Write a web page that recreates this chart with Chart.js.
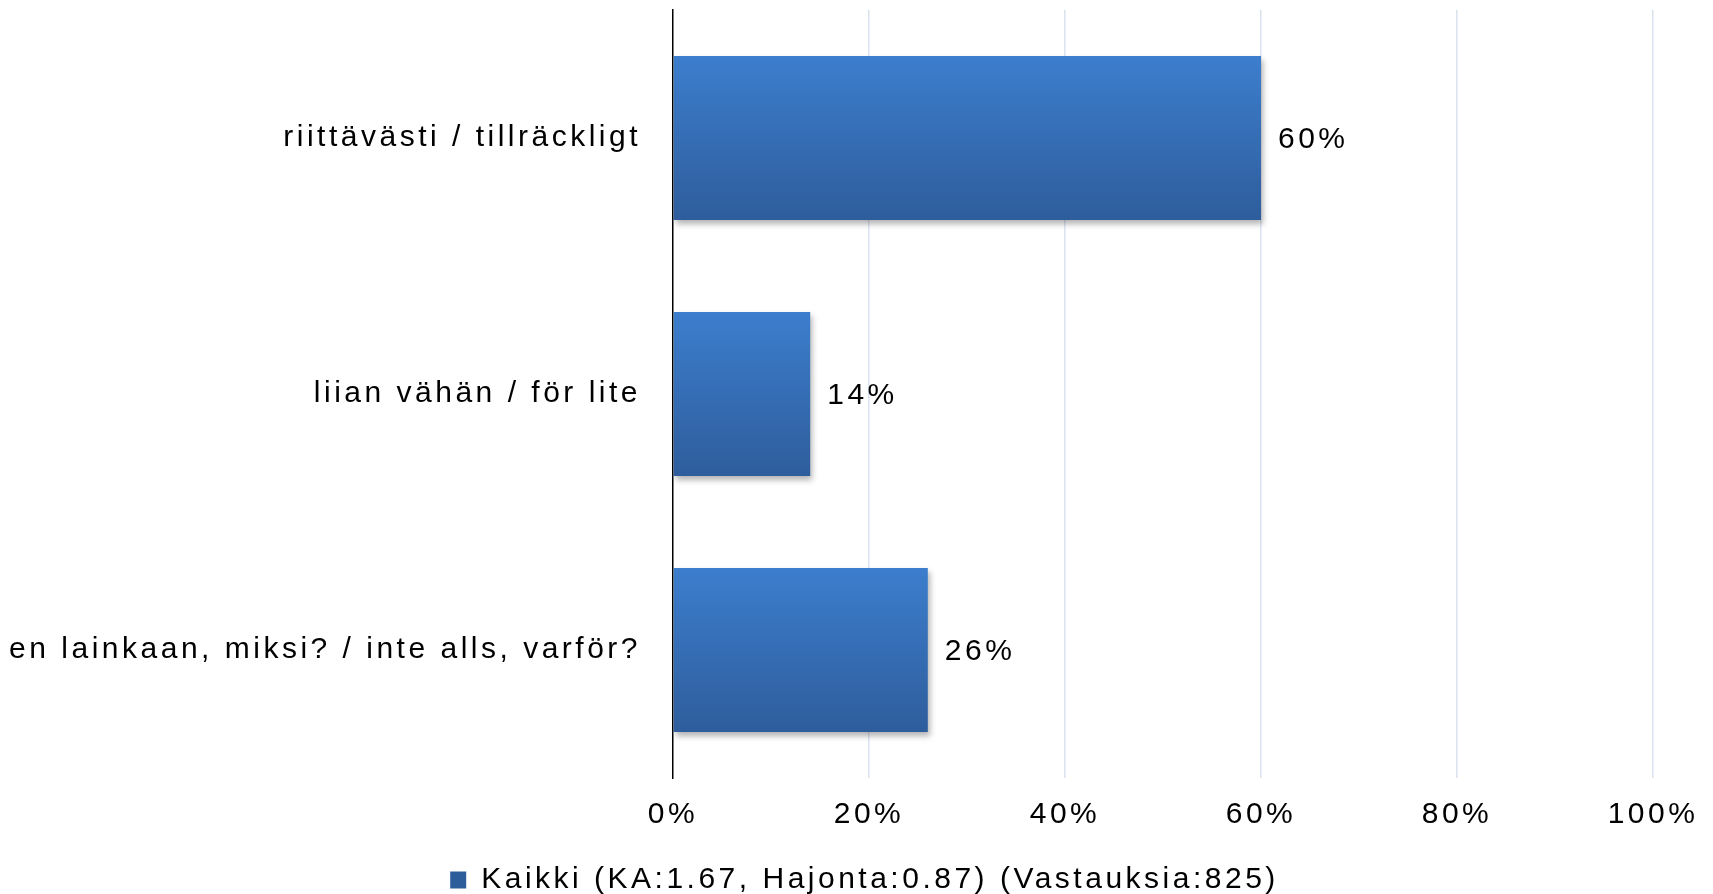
<!DOCTYPE html>
<html>
<head>
<meta charset="utf-8">
<script src="https://cdn.jsdelivr.net/npm/chart.js@4/dist/chart.umd.min.js"></script>
<style>
  html, body { margin: 0; padding: 0; background: #fff; }
  canvas { display: block; }
</style>
</head>
<body>
<canvas id="chart" width="1713" height="894"></canvas>
<script>
const categories = [
    'riittävästi / tillräckligt',
    'liian vähän / för lite',
    'en lainkaan, miksi? / inte alls, varför?'
];
const values = [60, 14, 26];
const seriesName = 'Kaikki (KA:1.67, Hajonta:0.87) (Vastauksia:825)';
const xTicks = [0, 20, 40, 60, 80, 100];

const FONT = '"Liberation Sans", Arial, Helvetica, sans-serif';
const SPACING = '3.5px';

// canvas letter spacing, has to be put back after each resize
const spacingPlugin = {
    id: 'spacing',
    beforeUpdate(chart) { chart.ctx.letterSpacing = SPACING; },
    beforeLayout(chart) { chart.ctx.letterSpacing = SPACING; },
    beforeDraw(chart) { chart.ctx.letterSpacing = SPACING; }
};

// legend sits a bit right of centre and lower in the original
const legendShift = {
    id: 'legendShift',
    afterLayout(chart) {
        const l = chart.legend;
        l.left += 76;
        l.top += 11;
        l.bottom += 11;
    }
};

const shadowPlugin = {
    id: 'barShadow',
    beforeDatasetsDraw(chart) {
        const ctx = chart.ctx;
        ctx.save();
        ctx.shadowColor = 'rgba(0, 0, 0, 0.3)';
        ctx.shadowBlur = 6;
        ctx.shadowOffsetX = 2;
        ctx.shadowOffsetY = 4;
    },
    afterDatasetsDraw(chart) {
        chart.ctx.restore();
    }
};

const valueLabels = {
    id: 'valueLabels',
    afterDatasetsDraw(chart) {
        const ctx = chart.ctx;
        const meta = chart.getDatasetMeta(0);
        ctx.save();
        ctx.font = '30px ' + FONT;
        ctx.fillStyle = '#000';
        ctx.textAlign = 'left';
        ctx.textBaseline = 'middle';
        meta.data.forEach((bar, i) => {
            ctx.fillText(values[i] + '%', bar.x + 17, bar.y + 2);
        });
        ctx.restore();
    }
};

function barColor(c) {
    const chart = c.chart;
    if (c.dataIndex === undefined || !chart.chartArea) return '#3669b1';
    const y = chart.scales.y;
    const band = (y.getPixelForValue(1) - y.getPixelForValue(0)) * 0.64;
    const mid = y.getPixelForValue(c.dataIndex);
    const g = chart.ctx.createLinearGradient(0, mid - band / 2, 0, mid + band / 2);
    g.addColorStop(0, 'rgb(60, 126, 205)');
    g.addColorStop(1, 'rgb(46, 93, 156)');
    return g;
}

const ctx = document.getElementById('chart').getContext('2d');

new Chart(ctx, {
    type: 'bar',
    data: {
        labels: categories,
        datasets: [{
            label: seriesName,
            data: values,
            backgroundColor: barColor,
            borderWidth: 0,
            categoryPercentage: 0.64,
            barPercentage: 1
        }]
    },
    options: {
        indexAxis: 'y',
        responsive: false,
        animation: false,
        layout: {
            padding: { top: 10, right: 60, bottom: 0, left: 0 }
        },
        scales: {
            x: {
                min: 0,
                max: 100,
                afterBuildTicks: (scale) => {
                    scale.ticks = xTicks.map(v => ({ value: v }));
                },
                afterFit: (scale) => {
                    scale.height = 76;
                    scale.paddingLeft = 0;
                    scale.paddingRight = 0;
                },
                grid: {
                    color: (c) => c.tick && c.tick.value === 0 ? 'rgba(0,0,0,0)' : 'rgb(218, 228, 240)',
                    lineWidth: 1.5,
                    drawTicks: false
                },
                border: { display: false },
                ticks: {
                    callback: (v) => v + '%',
                    font: { size: 30, family: FONT },
                    color: '#000',
                    padding: 19,
                    maxRotation: 0
                }
            },
            y: {
                afterFit: (scale) => {
                    scale.width = 673;
                    scale.paddingTop = 0;
                    scale.paddingBottom = 0;
                },
                grid: { display: false, drawTicks: false },
                border: { display: true, color: '#000', width: 1.5 },
                ticks: {
                    font: { size: 30, family: FONT },
                    color: '#000',
                    padding: 32
                }
            }
        },
        plugins: {
            legend: {
                position: 'bottom',
                labels: {
                    font: { size: 30, family: FONT },
                    color: '#000',
                    boxWidth: 16,
                    boxHeight: 17,
                    padding: 0
                }
            },
            tooltip: { enabled: false }
        }
    },
    plugins: [spacingPlugin, legendShift, shadowPlugin, valueLabels]
});
</script>
</body>
</html>
